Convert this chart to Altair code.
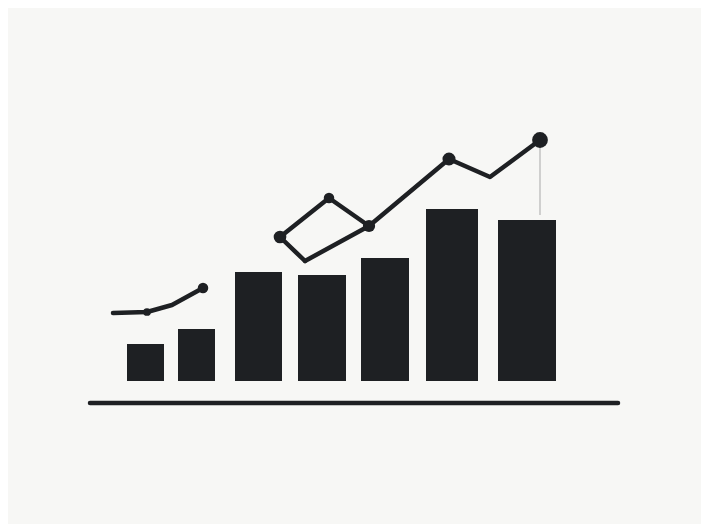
import altair as alt
import pandas as pd

# Bars: start, end (x units) and height
bar_start = [119, 170, 227, 290, 353, 418, 490]
bar_end = [156, 207, 274, 338, 401, 470, 548]
bar_height = [37, 52, 109, 106, 123, 172, 161]

# Line series (x units, y units)
seg_a_x = [105, 139, 164, 195]
seg_a_y = [68, 69, 76, 93]
seg_b_x = [297, 272, 321, 361, 441, 482, 532]
seg_b_y = [120, 144, 183, 155, 222, 204, 241]
seg_c_x = [297, 361]
seg_c_y = [120, 155]

pt_x = [139, 195, 272, 321, 361, 441, 532]
pt_y = [69, 93, 144, 183, 155, 222, 241]
pt_size = [60, 110, 160, 110, 150, 170, 250]

INK = "#1e2023"
BG = "#f7f7f5"

xs = alt.Scale(domain=[0, 693], nice=False, zero=False)
ys = alt.Scale(domain=[-143, 373], nice=False, zero=False)
noax = None

bars_df = pd.DataFrame({"x": bar_start, "x2": bar_end, "h": bar_height, "b": [0] * 7})
bars = alt.Chart(bars_df).mark_rect(color=INK).encode(
    x=alt.X("x:Q", scale=xs, axis=noax),
    x2="x2:Q",
    y=alt.Y("b:Q", scale=ys, axis=noax),
    y2="h:Q",
)

lines_df = pd.concat([
    pd.DataFrame({"x": seg_a_x, "y": seg_a_y, "g": "a", "o": range(len(seg_a_x))}),
    pd.DataFrame({"x": seg_b_x, "y": seg_b_y, "g": "b", "o": range(len(seg_b_x))}),
    pd.DataFrame({"x": seg_c_x, "y": seg_c_y, "g": "c", "o": range(len(seg_c_x))}),
])
lines = alt.Chart(lines_df).mark_line(color=INK, strokeWidth=4.5, strokeJoin="round", strokeCap="round").encode(
    x=alt.X("x:Q", scale=xs, axis=noax),
    y=alt.Y("y:Q", scale=ys, axis=noax),
    detail="g:N",
    order="o:Q",
)

pts_df = pd.DataFrame({"x": pt_x, "y": pt_y, "s": pt_size})
pts = alt.Chart(pts_df).mark_circle(color=INK, opacity=1).encode(
    x=alt.X("x:Q", scale=xs, axis=noax),
    y=alt.Y("y:Q", scale=ys, axis=noax),
    size=alt.Size("s:Q", scale=None, legend=None),
)

faint_df = pd.DataFrame({"x": [532], "y": [236], "y2": [166]})
faint = alt.Chart(faint_df).mark_rule(color="#9a9a9a", strokeWidth=1.2, opacity=0.7).encode(
    x=alt.X("x:Q", scale=xs, axis=noax),
    y=alt.Y("y:Q", scale=ys, axis=noax),
    y2="y2:Q",
)

base_df = pd.DataFrame({"x": [82], "x2": [610], "y": [-22]})
baseline = alt.Chart(base_df).mark_rule(color=INK, strokeWidth=4.5, strokeCap="round").encode(
    x=alt.X("x:Q", scale=xs, axis=noax),
    x2="x2:Q",
    y=alt.Y("y:Q", scale=ys, axis=noax),
)

chart = alt.layer(faint, bars, baseline, lines, pts).properties(
    width=693, height=516, padding=0,
    autosize=alt.AutoSizeParams(type="none"),
    background=BG,
).configure_view(stroke=None, fill=BG)

chart.save("out.html", embed_options={"renderer": "svg", "actions": False})
